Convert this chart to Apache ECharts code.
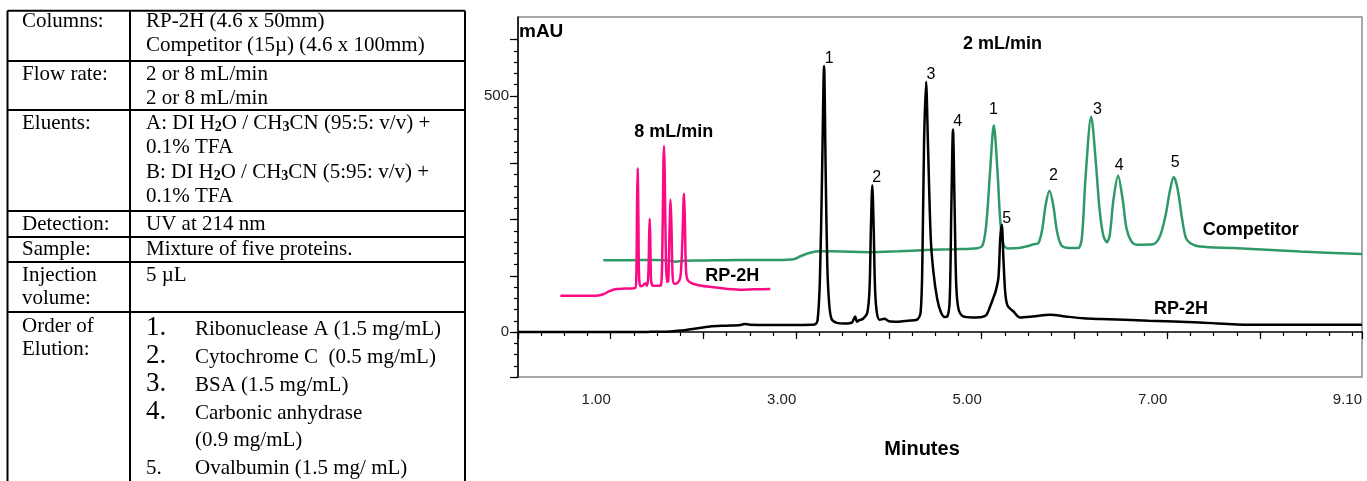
<!DOCTYPE html>
<html><head><meta charset="utf-8">
<script src="https://cdn.jsdelivr.net/npm/echarts@6/dist/echarts.min.js"></script>
<style>html,body{margin:0;padding:0;background:#fff}#c{width:1367px;height:481px}</style>
</head><body><div id="c"></div>
<script>
// ---------- DATA (time in minutes, absorbance in mAU) ----------
const rp2h_2mL = [[0,0],[0.3,0.3],[0.6,0],[1.0,0.2],[1.4,0.3],[1.6,0.8],[1.75,3],[1.9,7],[2.07,11.8],[2.25,13.5],[2.4,15],[2.44,17],[2.5,15.5],[2.75,15],[3.0,15],[3.2,16],[3.23,25],[3.255,110],[3.278,330],[3.30,563],[3.318,330],[3.335,140],[3.355,60],[3.38,28],[3.43,20],[3.52,18],[3.60,20],[3.635,33],[3.655,22],[3.68,25],[3.72,28],[3.765,40],[3.79,90],[3.805,220],[3.82,311],[3.835,220],[3.85,90],[3.87,40],[3.9,26],[3.95,28],[4.0,23],[4.1,22],[4.2,24],[4.3,26],[4.34,40],[4.36,150],[4.378,400],[4.40,530],[4.42,400],[4.45,200],[4.48,125],[4.52,70],[4.56,42],[4.60,32],[4.63,33],[4.655,70],[4.672,260],[4.69,429],[4.708,260],[4.725,100],[4.75,48],[4.8,33],[4.9,31],[5.0,32],[5.05,36],[5.09,54],[5.13,75],[5.15,86],[5.18,115],[5.20,200],[5.216,227],[5.235,150],[5.255,80],[5.28,55],[5.34,44],[5.41,31],[5.55,33],[5.74,36.6],[5.9,33],[6.1,29],[6.28,27.5],[6.8,24],[7.35,20.3],[7.89,15.4],[8.5,15.2],[9.1,15.4]];
const competitor_2mL = [[0.92,152],[1.2,152],[1.5,152.5],[1.62,151.5],[1.7,149],[1.78,151],[2.0,151.5],[2.4,152.5],[2.8,152.5],[2.97,154],[3.05,161],[3.15,168],[3.25,171],[3.5,170.5],[3.8,169],[4.1,171],[4.4,173.5],[4.7,175.5],[4.95,177.5],[5.01,184],[5.05,230],[5.09,340],[5.13,438],[5.17,340],[5.20,235],[5.235,185],[5.28,177],[5.4,178],[5.5,182],[5.56,186],[5.61,188],[5.65,215],[5.69,270],[5.73,299],[5.77,270],[5.81,215],[5.86,183],[5.95,178],[6.04,178],[6.08,200],[6.12,330],[6.18,456],[6.23,360],[6.27,260],[6.31,205],[6.35,190],[6.38,205],[6.42,280],[6.47,331],[6.52,280],[6.56,220],[6.61,193],[6.67,185],[6.85,186],[6.92,202],[6.98,245],[7.03,300],[7.07,328],[7.11,305],[7.16,240],[7.2,200],[7.25,188],[7.35,181],[7.71,177.7],[8.43,170.5],[9.1,165]];
const rp2h_8mL = [[0.457,77],[0.6,76.8],[0.846,77],[0.92,80],[0.98,86],[1.06,91],[1.15,92],[1.26,93],[1.275,110],[1.284,280],[1.29,347],[1.297,260],[1.305,120],[1.32,97],[1.345,98],[1.37,103],[1.39,98],[1.405,120],[1.415,210],[1.42,239.7],[1.426,200],[1.435,110],[1.455,98],[1.5,98],[1.54,99],[1.556,170],[1.568,360],[1.575,394],[1.583,320],[1.595,150],[1.607,106],[1.62,108],[1.632,200],[1.645,280],[1.655,220],[1.667,120],[1.685,102],[1.72,104],[1.75,115],[1.77,180],[1.785,280],[1.79,292.6],[1.80,230],[1.81,140],[1.83,110],[1.925,100],[2.18,93],[2.39,89.5],[2.55,90.5],[2.72,91]];

// peak numbers: [time, mAU, text]
const rp2hPeakLabels = [[3.356,578,'1'],[3.867,328,'2'],[4.453,546,'3'],[4.741,446,'4'],[5.270,241,'5']];
const competitorPeakLabels = [[5.125,472,'1'],[5.773,331,'2'],[6.247,470,'3'],[6.481,352,'4'],[7.086,358,'5']];
// bold annotations: [time, mAU, text]
const traceNotes = [[1.680,424,'8 mL/min'],[5.224,610,'2 mL/min'],[2.311,118,'RP-2H'],[7.900,216,'Competitor'],[7.148,49,'RP-2H']];

// axes
const xMajorTicks = [0,1,2,3,4,5,6,7,8,9.1];
const xLabelValues = [1,3,5,7,9.1];
const xLabelTexts = ['1.00','3.00','5.00','7.00','9.10'];
const yStep = 500/21;
const yMajorSteps = [-4,0,5,10,15,21,26];
const yLabelValues = [0,500];
const yLabelTexts = ['0','500'];

// table text
const tableRows = [
  {head:['Columns:'], body:['RP-2H (4.6 x 50mm)','Competitor (15\u00b5) (4.6 x 100mm)']},
  {head:['Flow rate:'], body:['2 or 8 mL/min','2 or 8 mL/min']},
  {head:['Eluents:'], body:['A: DI H{s|2}O / CH{s|3}CN (95:5: v/v) +','0.1% TFA','B: DI H{s|2}O / CH{s|3}CN (5:95: v/v) +','0.1% TFA']},
  {head:['Detection:'], body:['UV at 214 nm']},
  {head:['Sample:'], body:['Mixture of five proteins.']},
  {head:['Injection','volume:'], body:['5 \u00b5L']}
];
const elutionHead = ['Order of','Elution:'];
const elutionNums = ['1.','2.','3.','4.','','5.'];
const elutionItems = ['Ribonuclease A (1.5 mg/mL)','Cytochrome C  (0.5 mg/mL)','BSA (1.5 mg/mL)','Carbonic anhydrase','(0.9 mg/mL)','Ovalbumin (1.5 mg/ mL)'];

// ---------- LAYOUT ----------
const SANS = 'Liberation Sans, Arial, sans-serif';
const SERIF = 'Liberation Serif, Times New Roman, serif';
const yMinorTicks = []; for (let k=-4;k<=26;k++) yMinorTicks.push(k*yStep);
const yMajorTicks = yMajorSteps.map(k=>k*yStep);
const xMinorTicks = []; for (let k=0;k<=36;k++) xMinorTicks.push(k*0.25);

const graphics = [];
const tL=7.5, tR=465, tT=10.7, tB=500, tDiv=130;
const hLines = [61,110,211,237,262,312];
const ln=(x1,y1,x2,y2)=>({type:'line',silent:true,shape:{x1,y1,x2,y2},style:{stroke:'#000',lineWidth:2}});
graphics.push(ln(tL,tT,tR,tT), ln(tL,tT,tL,tB), ln(tR,tT,tR,tB), ln(tDiv,tT,tDiv,tB));
hLines.forEach(y=>graphics.push(ln(tL,y,tR,y)));
const rowTop = [21,74,123,224,249,275];
const lineGap = 24.5;
const txt=(x,y,text,size,extra)=>Object.assign({type:'text',silent:true,x,y,style:Object.assign({text,fontSize:size||21,fontFamily:SERIF,fill:'#000',verticalAlign:'middle',align:'left',rich:{s:{fontSize:14,fontFamily:SERIF,fontWeight:'bold',verticalAlign:'bottom',lineHeight:22}}},extra||{})});
tableRows.forEach((r,i)=>{
  r.head.forEach((h,j)=>graphics.push(txt(22,rowTop[i]+j*23,h)));
  r.body.forEach((b,j)=>graphics.push(txt(146,rowTop[i]+j*lineGap,b)));
});
elutionHead.forEach((h,j)=>graphics.push(txt(22,326+j*23,h)));
const elY=[329,357,385,413,440,468];
elutionNums.forEach((n,j)=>{ if(n) graphics.push(txt(146,elY[j]+(j<4?-1:0),n,j<4?27:21)); });
elutionItems.forEach((t,j)=>graphics.push(txt(195,elY[j],t)));
// axis titles
graphics.push({type:'text',silent:true,x:519,y:32,style:{text:'mAU',fontSize:19,fontWeight:'bold',fontFamily:SANS,fill:'#000',verticalAlign:'middle'}});
graphics.push({type:'text',silent:true,x:922,y:449,style:{text:'Minutes',fontSize:20,fontWeight:'bold',fontFamily:SANS,fill:'#000',verticalAlign:'middle',align:'center'}});

const labelSeries=(data,size,weight)=>({type:'scatter',data,symbolSize:0,silent:true,z:5,
  itemStyle:{opacity:1},
  label:{show:true,position:'inside',formatter:p=>p.data[2],fontSize:size,fontWeight:weight,fontFamily:SANS,color:'#000',opacity:1}});

const chart = echarts.init(document.getElementById('c'),null,{renderer:'canvas'});
chart.setOption({
  animation:false,
  backgroundColor:'#fff',
  grid:{left:518,top:17,right:5,bottom:104,show:true,borderColor:'#8c8c8c',borderWidth:1.5,containLabel:false},
  xAxis:[
    {type:'value',min:0,max:9.1,position:'bottom',
     axisLine:{show:true,lineStyle:{color:'#000',width:1.5}},
     axisTick:{show:true,length:7,customValues:xMajorTicks,lineStyle:{color:'#000',width:1.2}},
     axisLabel:{show:true,customValues:xLabelValues,formatter:v=>xLabelTexts[xLabelValues.indexOf(v)],align:'right',margin:15,fontSize:15,fontFamily:SANS,color:'#222'},
     splitLine:{show:false}},
    {type:'value',min:0,max:9.1,position:'bottom',
     axisLine:{show:false},
     axisTick:{show:true,length:4,customValues:xMinorTicks,lineStyle:{color:'#000',width:1.2}},
     axisLabel:{show:false},splitLine:{show:false}}
  ],
  yAxis:[
    {type:'value',min:-4*yStep,max:667,position:'left',
     axisLine:{show:true,lineStyle:{color:'#000',width:1.5}},
     axisTick:{show:true,length:8,customValues:yMajorTicks,lineStyle:{color:'#000',width:1.2}},
     axisLabel:{show:true,customValues:yLabelValues,formatter:v=>yLabelTexts[yLabelValues.indexOf(v)],margin:9,fontSize:15,fontFamily:SANS,color:'#222'},
     splitLine:{show:false}},
    {type:'value',min:-4*yStep,max:667,position:'left',
     axisLine:{show:false},
     axisTick:{show:true,length:4,customValues:yMinorTicks,lineStyle:{color:'#000',width:1.2}},
     axisLabel:{show:false},splitLine:{show:false}}
  ],
  series:[
    {name:'Competitor 2 mL/min',type:'line',data:competitor_2mL,showSymbol:false,smooth:0.3,lineStyle:{color:'#2f9a68',width:2.5},z:2},
    {name:'RP-2H 8 mL/min',type:'line',data:rp2h_8mL,showSymbol:false,smooth:0.3,lineStyle:{color:'#fb0a86',width:2.5},z:3},
    {name:'RP-2H 2 mL/min',type:'line',data:rp2h_2mL,showSymbol:false,smooth:0.3,lineStyle:{color:'#000',width:2.5},z:4},
    labelSeries(rp2hPeakLabels,16,'normal'),
    labelSeries(competitorPeakLabels,16,'normal'),
    labelSeries(traceNotes,18,'bold')
  ],
  graphic:graphics
});
</script></body></html>
